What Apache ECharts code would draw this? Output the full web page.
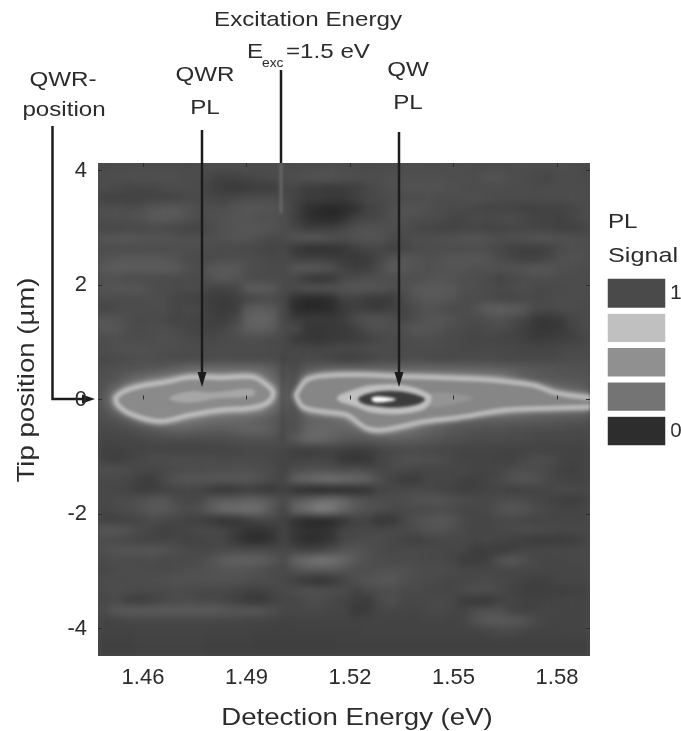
<!DOCTYPE html>
<html>
<head>
<meta charset="utf-8">
<style>html,body{margin:0;padding:0;background:#fff}#chart{width:681px;height:731px}</style>
<script src="https://cdn.jsdelivr.net/npm/echarts@6/dist/echarts.min.js"></script>
</head>
<body>
<div id="chart"></div>
<script>
// tick labels
const energyTicks = [1.46, 1.49, 1.52, 1.55, 1.58];
const positionTicks = [-4, -2, 0, 2, 4];
// gray level of the map; rows run from top (+4.1 um) to bottom (-4.5 um)
const shadeRows = [
[70,72,72,72,70,72,72,70,72,72,72,74,74,72,72,72,70,72,72,74,72,72,70,72,72,72,74,72,72,74,74,72,72,72,72,74,72,72,74,72,70],
[72,74,74,76,76,76,76,72,72,64,60,60,66,68,70,72,76,78,80,80,76,74,74,74,76,76,76,76,76,74,74,74,80,80,74,72,68,66,72,72,70],
[72,70,66,66,66,70,72,72,70,60,54,52,54,56,56,66,64,56,54,52,54,58,66,72,76,76,78,78,78,76,74,72,72,72,72,72,70,72,72,72,72],
[60,60,60,60,62,62,64,68,70,66,64,68,72,72,72,70,62,56,56,54,54,60,68,70,72,72,72,74,72,72,74,76,74,72,72,72,72,72,72,74,72],
[74,74,72,74,82,84,84,78,74,74,74,80,82,82,80,74,60,44,38,34,38,44,60,66,74,78,80,76,72,70,70,66,64,64,62,60,60,62,62,66,70],
[74,76,76,78,84,86,84,78,72,76,78,80,80,76,76,74,58,44,38,36,44,60,66,68,76,78,74,72,72,66,66,72,70,72,72,68,64,62,60,66,72],
[66,66,68,68,70,70,66,64,62,72,76,80,82,82,80,74,66,56,56,58,68,76,78,76,74,72,68,66,62,62,64,64,62,62,66,66,64,62,60,60,62],
[82,84,84,82,80,80,78,76,76,76,78,80,80,74,70,70,82,84,84,78,74,78,80,80,72,70,74,74,76,78,80,82,78,74,76,78,82,80,78,76,74],
[72,72,72,72,72,72,74,74,74,72,70,70,68,66,64,66,50,44,42,44,50,58,66,66,58,64,70,72,72,72,72,72,72,66,60,58,58,60,70,74,74],
[78,82,84,84,84,82,78,72,70,70,72,74,74,70,68,70,62,58,60,56,54,52,56,66,78,82,80,76,78,82,82,84,78,72,66,60,60,66,76,78,76],
[86,88,88,88,88,88,86,76,72,84,86,84,76,72,70,70,82,86,84,78,62,56,58,72,86,84,78,76,78,80,80,76,78,76,78,80,84,82,76,74,72],
[76,76,72,72,72,70,70,70,70,80,84,80,72,70,70,70,66,50,46,50,68,72,74,74,74,74,74,78,80,78,74,74,70,62,68,72,74,74,72,72,72],
[80,82,82,82,74,72,70,72,70,62,62,66,88,90,86,70,72,80,80,80,80,84,82,80,74,74,84,86,86,84,76,74,72,70,72,74,68,68,70,72,72],
[72,72,72,72,74,72,66,62,60,58,54,58,64,68,70,66,42,36,36,42,62,60,54,52,56,70,80,84,84,80,72,72,70,66,64,68,68,70,72,72,72],
[64,68,72,72,72,74,66,70,68,56,54,56,86,90,86,68,38,34,36,40,52,58,56,54,60,64,72,78,74,70,72,78,90,92,90,84,72,70,72,72,70],
[82,78,74,70,70,68,64,66,62,60,58,66,92,96,92,68,56,54,54,52,58,72,78,78,74,66,72,80,82,78,72,72,74,78,72,66,52,50,54,66,70],
[84,82,74,70,74,74,70,66,64,60,66,76,90,92,88,70,70,50,50,52,52,60,72,76,74,76,84,82,78,72,70,66,72,72,66,58,50,50,52,62,70],
[72,74,72,72,72,76,74,70,68,68,70,72,74,72,70,68,52,50,48,52,54,56,60,68,70,70,74,74,72,70,68,66,66,64,62,60,54,56,58,60,64],
[74,76,78,78,76,74,74,72,72,72,72,72,72,72,70,68,68,66,66,68,70,70,72,72,72,72,72,72,72,70,68,68,70,70,68,66,66,66,68,70,70],
[68,70,72,74,74,72,70,70,70,70,72,70,70,70,70,66,68,70,68,62,56,58,62,68,70,70,72,70,68,68,70,70,70,68,68,68,68,68,70,72,72],
[74,76,78,80,82,86,92,100,102,104,104,104,104,100,92,76,70,84,92,96,98,98,98,98,98,98,98,98,98,98,96,96,94,92,90,86,84,82,80,78,78],
[76,80,92,104,116,124,130,136,136,136,136,136,136,130,104,78,78,128,136,136,136,136,136,136,136,136,136,136,136,136,136,130,130,126,110,94,86,84,82,82,82],
[80,100,130,136,136,136,136,136,136,136,136,136,136,136,136,84,80,136,136,136,136,136,136,136,136,136,136,136,136,136,136,136,136,136,136,136,136,120,104,96,90],
[86,130,136,136,136,136,136,136,136,136,136,136,136,136,132,86,84,136,136,136,136,136,136,136,136,136,136,136,136,136,136,136,136,136,136,136,136,136,136,136,136],
[80,104,130,136,136,136,136,136,136,136,136,136,136,130,104,80,78,120,136,136,136,136,136,136,136,136,136,136,136,136,136,136,136,136,130,120,110,110,110,110,110],
[74,78,90,110,120,126,126,120,114,108,104,100,96,90,84,76,76,92,96,100,110,124,136,136,136,130,120,110,104,98,96,94,92,92,90,90,88,86,84,82,80],
[68,70,72,78,84,90,94,94,90,88,88,92,96,96,88,74,76,96,100,98,96,100,110,122,124,116,106,96,90,84,80,78,76,76,74,74,72,72,72,70,70],
[64,66,66,68,70,72,72,72,72,72,72,74,76,76,76,72,88,100,100,94,86,84,84,88,90,90,88,84,80,76,74,72,72,72,70,70,68,68,68,68,66],
[60,60,62,62,64,64,62,62,62,64,64,66,68,68,68,66,58,56,58,60,58,56,58,64,68,70,70,68,66,66,64,64,64,64,62,62,62,62,62,62,62],
[60,58,62,68,72,72,74,74,72,72,70,70,70,70,68,64,62,62,66,62,50,46,50,64,70,76,78,76,74,68,64,64,64,62,60,68,74,72,66,62,62],
[76,74,72,68,66,68,70,72,72,74,74,76,76,74,70,64,72,76,76,74,72,74,70,66,70,70,66,66,66,66,68,64,64,66,72,74,72,68,62,60,62],
[68,70,66,58,56,70,80,82,82,84,84,84,84,78,70,66,96,102,110,114,106,102,96,76,62,54,54,66,66,66,60,58,64,70,78,82,78,70,64,62,62],
[68,66,64,56,56,60,62,66,64,52,48,50,56,52,50,62,42,36,30,32,36,38,44,62,68,70,70,68,64,62,58,60,64,64,58,60,62,66,70,70,68],
[68,70,72,76,82,84,72,66,70,84,88,88,92,92,84,70,86,94,104,108,98,84,78,74,72,74,78,80,80,76,72,70,68,72,74,72,66,64,58,56,60],
[66,70,72,78,84,84,78,72,76,90,104,108,112,104,84,66,100,112,128,120,100,84,78,74,70,68,70,70,72,70,66,66,68,78,82,80,72,68,64,64,66],
[60,58,62,66,72,68,66,60,58,52,44,48,56,66,66,60,44,36,34,36,46,62,60,48,50,66,76,80,84,80,70,66,66,68,68,66,64,66,66,66,66],
[84,84,80,70,66,58,62,66,70,70,66,56,48,46,50,64,50,44,44,50,66,66,68,68,70,70,72,78,80,74,68,66,66,68,70,74,72,70,68,68,68],
[72,70,66,64,62,64,66,60,62,66,66,50,40,38,46,64,46,40,42,48,66,70,72,72,68,62,58,62,66,68,68,66,68,64,60,56,54,54,54,56,62],
[76,80,82,82,84,80,74,70,68,68,70,72,72,72,70,68,66,60,64,72,80,82,76,70,68,70,70,70,68,66,66,54,56,54,58,66,66,68,68,68,68],
[70,72,70,70,72,68,70,70,72,80,90,94,94,92,84,72,98,108,118,112,100,84,76,72,70,70,70,68,68,66,54,56,60,78,86,76,68,66,66,68,68],
[66,70,74,72,70,70,72,74,76,78,80,80,78,76,70,68,78,84,84,84,78,74,74,76,78,78,74,72,72,70,68,66,66,66,66,66,68,66,66,66,66],
[72,72,70,72,74,76,78,78,78,78,78,78,76,74,72,68,58,48,44,50,62,76,80,84,84,76,72,70,68,66,66,68,70,68,66,62,58,60,66,66,66],
[70,74,72,70,70,70,72,70,68,68,68,66,60,60,66,70,74,78,76,74,72,62,70,72,74,70,70,68,66,66,72,76,74,70,62,58,58,58,58,58,60],
[66,70,58,56,60,68,70,72,68,68,66,58,52,50,58,66,66,72,72,68,64,58,54,70,76,66,68,68,70,68,54,50,50,60,66,62,60,62,64,66,64],
[72,84,88,88,88,88,88,88,88,88,86,84,84,84,76,68,68,68,68,66,66,52,56,66,66,66,64,68,70,66,64,74,76,76,64,60,62,66,64,64,64],
[62,64,66,66,66,66,66,66,66,66,66,66,64,64,62,60,62,62,62,62,62,62,62,62,62,62,62,64,64,62,66,78,86,86,86,82,70,64,64,64,64],
[62,62,62,64,64,64,64,64,64,62,62,62,62,60,60,60,60,60,60,60,60,60,62,62,62,62,62,62,62,62,62,62,66,70,70,64,62,62,62,64,64],
[60,60,60,62,62,62,62,62,62,60,60,60,60,58,58,58,58,58,58,58,60,60,60,60,60,60,60,60,60,60,60,60,60,60,60,60,60,60,60,60,60],
[58,58,58,60,60,60,60,60,60,58,58,58,58,58,58,58,58,58,58,58,58,58,58,58,58,58,58,58,58,58,58,58,58,58,58,58,58,58,58,58,58]
];
// bright and dark contours of the PL band, [energy eV, tip position um]
const qwrOuter = [[1.4524,.05],[1.4571,.20],[1.4670,.31],[1.4736,.39],[1.4832,.38],[1.4919,.39],[1.4959,.25],[1.4977,.11],[1.4959,-.06],[1.4910,-.15],[1.4832,-.18],[1.4736,-.27],[1.4649,-.38],[1.4571,-.27],[1.4528,-.10]];
const qwrInner = [[1.4678,.03],[1.4736,.13],[1.4803,.11],[1.4910,.18],[1.4925,.11],[1.4910,.06],[1.4814,.03],[1.4745,-.04],[1.4699,-.03]];
const qwOuter = [[1.5046,.11],[1.5075,.34],[1.5122,.41],[1.5219,.43],[1.5345,.40],[1.5461,.38],[1.5606,.34],[1.5730,.25],[1.5799,.11],[1.5896,.03],[1.5925,.03],[1.5925,-.13],[1.5896,-.13],[1.5799,-.15],[1.5654,-.18],[1.5509,-.32],[1.5412,-.39],[1.5296,-.53],[1.5248,-.50],[1.5190,-.27],[1.5122,-.21],[1.5064,-.13],[1.5046,.03]];
const qwTail = [[1.5432,.11],[1.5557,.03],[1.5432,-.13]];
const qwMiddle = [[1.5166,.02],[1.5219,.166],[1.5277,.235],[1.5364,.22],[1.5427,.08],[1.5432,-.01],[1.5412,-.155],[1.5345,-.23],[1.5268,-.21],[1.5219,-.11]];
const qwCore = [[1.5224,.02],[1.5258,.11],[1.5316,.15],[1.5374,.11],[1.5417,.01],[1.5398,-.08],[1.5335,-.14],[1.5268,-.11],[1.5234,-.06]];
const qwPeak = [[1.5263,.03],[1.5287,.05],[1.5333,0],[1.5287,-.05],[1.5266,-.03]];
const excitationTrace = [[1.5,4.13],[1.5,3.25]];
const excitationDip = [[1.5004,.75],[1.5004,-.7]];
// legend: top swatch is "1", bottom swatch is "0"
const legendLabels = ['0','','','','1'];
const legendShades = [40,113,141,190,70];

const PLOT = {l:98,t:163,w:492,h:493};
const INK = '#2c2c2c';
const FONT = 'Liberation Sans, Arial, sans-serif';

const energyCats = shadeRows[0].map((_, i) => 'c' + i);
const rowCats = shadeRows.map((_, i) => 'r' + i);
const cells = [];
shadeRows.forEach((row, r) => row.forEach((v, c) => cells.push([c, r, v])));
const legendCells = legendShades.map((v, i) => [0, i, v]);

function contour(pts, fill, stroke, lw) {
  return {
    type: 'custom', xAxisIndex: 1, yAxisIndex: 1, zlevel: 1, clip: true, silent: true,
    data: [[pts[0][0], pts[0][1]]],
    renderItem: (params, api) => ({
      type: 'polygon',
      shape: {points: pts.map(p => api.coord(p)), smooth: 0.35},
      style: {fill, stroke: stroke || 'none', lineWidth: lw || 0}
    })
  };
}
function trace(data, color, width) {
  return {type:'line', xAxisIndex:1, yAxisIndex:1, zlevel:1, data, showSymbol:false, silent:true, lineStyle:{color, width}};
}
function txt(text, x, y, size, extra) {
  const e = extra || {};
  return {type:'text', zlevel:2, x, y, scaleX:e.scaleX||1.15, rotation:e.rotation||0,
    style:{text, fill:INK, font:size+'px '+FONT, align:e.align||'center', verticalAlign:'middle'}};
}
function seg(pts) {
  return {type:'polyline', zlevel:2, shape:{points:pts}, style:{stroke:'#1c1c1c', lineWidth:2.5, fill:'none'}};
}
function head(pts) {
  return {type:'polygon', zlevel:2, shape:{points:pts}, style:{fill:'#1c1c1c'}};
}
const tickStyle = {show:true, inside:true, length:4, lineStyle:{color:'#2e2e2e', width:1}};
const xValue = (pos, extra) => Object.assign({type:'value', gridIndex:0, position:pos, zlevel:2, min:1.44696, max:1.58957, axisLine:{show:false}, splitLine:{show:false}, axisTick:Object.assign({customValues:energyTicks}, tickStyle)}, extra);
const yValue = (pos, extra) => Object.assign({type:'value', gridIndex:0, position:pos, zlevel:2, min:-4.48, max:4.13, axisLine:{show:false}, splitLine:{show:false}, axisTick:Object.assign({customValues:positionTicks}, tickStyle)}, extra);

const option = {
  animation:false,
  grid:[
    {left:PLOT.l, top:PLOT.t, width:PLOT.w, height:PLOT.h, outerBoundsMode:'none'},
    {left:605, top:276, width:63, height:172, outerBoundsMode:'none'}
  ],
  xAxis:[
    {type:'category', gridIndex:0, data:energyCats, show:false},
    xValue('bottom',{axisLabel:{customValues:energyTicks, color:INK, fontFamily:FONT, fontSize:22, margin:11}}),
    xValue('top',{axisLabel:{show:false}}),
    {type:'category', gridIndex:1, data:['s'], show:false}
  ],
  yAxis:[
    {type:'category', gridIndex:0, data:rowCats, inverse:true, show:false},
    yValue('left',{axisLabel:{customValues:positionTicks, color:INK, fontFamily:FONT, fontSize:22, margin:11}}),
    yValue('right',{axisLabel:{show:false}}),
    {type:'category', gridIndex:1, data:legendLabels, position:'right', zlevel:2, axisLine:{show:false}, axisTick:{show:false}, axisLabel:{color:INK, fontFamily:FONT, fontSize:21, margin:2, interval:0}}
  ],
  visualMap:{show:false, type:'continuous', min:0, max:255, seriesIndex:[0,1], inRange:{color:['#060606','#ffffff']}},
  series:[
    {type:'heatmap', xAxisIndex:0, yAxisIndex:0, zlevel:0, data:cells, silent:true, progressive:0},
    {type:'heatmap', xAxisIndex:3, yAxisIndex:3, zlevel:2, data:legendCells, silent:true, itemStyle:{borderColor:'#ffffff', borderWidth:6}},
    contour(qwrOuter,'none','rgba(255,255,255,0.13)',11),
    contour(qwOuter,'none','rgba(255,255,255,0.13)',11),
    contour(qwrOuter,'#8a8a8a','#bababa',5),
    contour(qwrInner,'#a6a6a6','#adadad',1),
    contour(qwOuter,'#868686','#b8b8b8',5),
    contour(qwTail,'#949494',null,0),
    contour(qwMiddle,'#c2c2c2','#bcbcbc',3),
    contour(qwCore,'#3c3c3c','#666666',1),
    contour(qwPeak,'#ffffff',null,0),
    trace(excitationTrace,'#747474',2),
    trace(excitationDip,'rgba(60,60,60,0.45)',2)
  ],
  graphic:[
    txt('Excitation Energy',308,20,21),
    txt('E',247,52,21,{align:'left'}),
    txt('exc',262,64,12,{align:'left'}),
    txt('=1.5 eV',286,52,21,{align:'left'}),
    txt('QWR-',63,80,21),
    txt('position',64,110,21),
    txt('QWR',205,75,21),
    txt('PL',205,108,21),
    txt('QW',408,70,21),
    txt('PL',408,103,21),
    txt('PL',608,222,21,{align:'left'}),
    txt('Signal',608,256,21,{align:'left',scaleX:1.2}),
    txt('Detection Energy (eV)',357,718,24),
    txt('Tip position (\u00b5m)',27,380,24,{rotation:Math.PI/2}),
    seg([[202,130],[202,374]]), head([[197.5,372],[206.5,372],[202,387]]),
    seg([[399,132],[399,374]]), head([[394.5,372],[403.5,372],[399,387]]),
    seg([[281,70],[281,163]]),
    seg([[52.5,126],[52.5,399],[84,399]]), head([[82,394.5],[82,403.5],[95,399]])
  ]
};
const chart = echarts.init(document.getElementById('chart'));
chart.setOption(option);
const painter = chart.getZr().painter;
const base = painter.getLayer(0).dom;
const clip = `inset(${PLOT.t}px ${681-PLOT.l-PLOT.w}px ${731-PLOT.t-PLOT.h}px ${PLOT.l}px)`;
base.style.background = '#4c4c4c';
base.style.filter = 'blur(4px)';
base.style.clipPath = clip;
const mid = painter.getLayer(1).dom;
mid.style.filter = 'blur(1.5px)';
mid.style.clipPath = clip;
painter.getLayer(2).dom.style.filter = 'blur(0.45px)';
</script>
</body>
</html>
